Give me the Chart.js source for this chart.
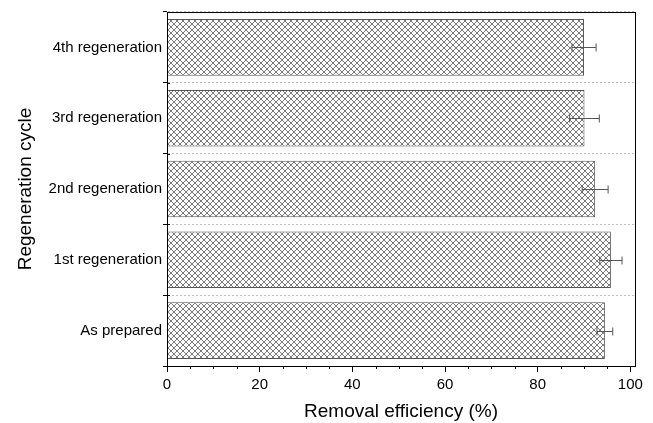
<!DOCTYPE html>
<html>
<head>
<meta charset="utf-8">
<script src="https://cdn.jsdelivr.net/npm/chart.js@4"></script>
<style>
  html, body { margin: 0; padding: 0; background: #fff; }
  #wrap { width: 653px; height: 423px; }
</style>
</head>
<body>
<div id="wrap"><canvas id="myChart" width="653" height="423"></canvas></div>
<script>
const categories = ['4th regeneration', '3rd regeneration', '2nd regeneration', '1st regeneration', 'As prepared'];
const efficiency = [90.0, 90.1, 92.4, 95.8, 94.5];
const errors = [2.6, 3.2, 2.8, 2.4, 1.7];
const xTicks = [0, 20, 40, 60, 80, 100];
const xMinorTicks = [5, 10, 15, 25, 30, 35, 45, 50, 55, 65, 70, 75, 85, 90, 95];

// cross hatch fill
function hatch() {
    const c = document.createElement('canvas');
    c.width = 6; c.height = 6;
    const g = c.getContext('2d');
    g.fillStyle = '#fff';
    g.fillRect(0, 0, 6, 6);
    g.strokeStyle = '#7a7a7a';
    g.lineWidth = 1;
    g.beginPath();
    g.moveTo(-1, -1); g.lineTo(7, 7);
    g.moveTo(-1, 7); g.lineTo(7, -1);
    g.stroke();
    return g.createPattern(c, 'repeat');
}

const frame = {
    id: 'frame',
    afterDatasetsDraw(chart) {
        const ctx = chart.ctx;
        const a = chart.chartArea;
        const x = chart.scales.x;
        const y = chart.scales.y;
        ctx.save();
        // error bars
        ctx.strokeStyle = '#555';
        ctx.lineWidth = 1;
        efficiency.forEach((v, i) => {
            const cy = Math.round(y.getPixelForValue(i)) + 0.5;
            const x1 = x.getPixelForValue(v - errors[i]);
            const x2 = x.getPixelForValue(v + errors[i]);
            ctx.beginPath();
            ctx.moveTo(x1, cy); ctx.lineTo(x2, cy);
            ctx.moveTo(x1, cy - 4); ctx.lineTo(x1, cy + 4);
            ctx.moveTo(x2, cy - 4); ctx.lineTo(x2, cy + 4);
            ctx.stroke();
        });
        // box
        ctx.strokeStyle = '#000';
        ctx.strokeRect(Math.round(a.left) + 0.5, Math.round(a.top) + 0.5,
            Math.round(a.right - a.left), Math.round(a.bottom - a.top));
        // minor ticks on x
        ctx.beginPath();
        xMinorTicks.forEach(t => {
            const px = Math.round(x.getPixelForValue(t)) + 0.5;
            ctx.moveTo(px, a.bottom); ctx.lineTo(px, a.bottom + 3);
        });
        // y ticks inward part
        for (let i = 0; i <= categories.length; i++) {
            const py = Math.round(y.getPixelForValue(i - 0.5)) + 0.5;
            ctx.moveTo(a.left, py); ctx.lineTo(a.left + 3, py);
        }
        ctx.stroke();
        ctx.restore();
    }
};

const ctx = document.getElementById('myChart');
const myChart = new Chart(ctx, {
    type: 'bar',
    data: {
        labels: categories,
        datasets: [{
            label: 'Removal efficiency',
            data: efficiency,
            backgroundColor: hatch(),
            borderColor: '#555',
            borderWidth: 1,
            barPercentage: 0.8,
            categoryPercentage: 1.0
        }]
    },
    options: {
        indexAxis: 'y',
        responsive: false,
        animation: false,
        devicePixelRatio: 1,
        layout: { padding: { top: 12, right: 18, bottom: 0, left: 0 } },
        plugins: {
            legend: { display: false },
            tooltip: { enabled: false }
        },
        scales: {
            x: {
                min: 0,
                max: 101,
                afterBuildTicks: s => { s.ticks = xTicks.map(v => ({ value: v })); },
                afterFit: s => { s.height = 57; },
                ticks: {
                    color: '#000',
                    font: { family: 'Liberation Sans', size: 15 },
                    padding: 4,
                    maxRotation: 0
                },
                grid: {
                    drawOnChartArea: false,
                    tickLength: 6,
                    color: '#000'
                },
                border: { color: '#000' },
                title: {
                    display: true,
                    text: 'Removal efficiency (%)',
                    color: '#000',
                    font: { family: 'Liberation Sans', size: 19 },
                    padding: { top: 5, bottom: 0 }
                }
            },
            y: {
                afterFit: s => { s.width = 167; },
                ticks: {
                    color: '#000',
                    font: { family: 'Liberation Sans', size: 15 },
                    padding: 1
                },
                grid: {
                    offset: true,
                    color: '#bdbdbd',
                    lineWidth: 1,
                    tickColor: '#000',
                    tickLength: 4
                },
                border: { color: '#000', dash: [2, 2] },
                title: {
                    display: true,
                    text: 'Regeneration cycle',
                    color: '#000',
                    font: { family: 'Liberation Sans', size: 19 },
                    padding: { top: 14, bottom: 10 }
                }
            }
        }
    },
    plugins: [frame]
});
</script>
</body>
</html>
